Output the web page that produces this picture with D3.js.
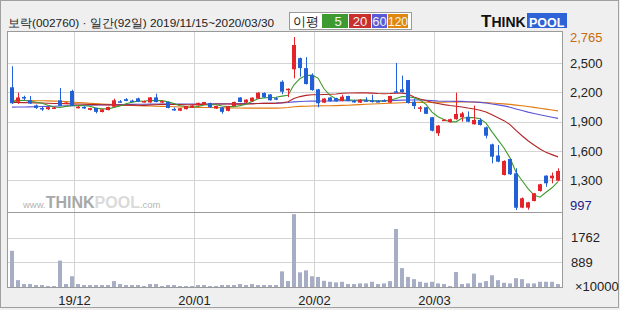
<!DOCTYPE html>
<html>
<head>
<meta charset="utf-8">
<script src="https://cdn.jsdelivr.net/npm/d3@7"></script>
<style>
  body { margin: 0; background: #fff; }
  svg { display: block; }
  text { font-family: "Liberation Sans", Arial, sans-serif; }
</style>
</head>
<body>
<div id="chart"></div>
<script>
// daily candles, 2019/11/15 ~ 2020/03/30 (92 trading days)
const opens = [2251,2104,2152,2118,2066,2040,2027,2040,2118,2085,2213,2042,2050,2020,2040,1998,2018,2052,2108,2130,
  2115,2138,2100,2096,2148,2098,2102,2030,2012,2027,2043,2067,2074,2090,2034,2045,2010,2060,2147,2094,
  2108,2135,2193,2178,2140,2308,2228,2435,2549,2447,2377,2230,2094,2147,2140,2111,2162,2112,2094,2118,
  2118,2110,2118,2094,2210,2230,2325,2104,2040,2047,1945,1781,1915,1896,1925,1945,1950,1873,1917,1842,
  1668,1554,1355,1518,1372,1021,1021,1089,1191,1348,1321,1297]
const highs = [2466,2196,2165,2162,2075,2050,2052,2050,2244,2100,2226,2060,2058,2042,2042,2028,2052,2135,2120,2140,
  2125,2145,2115,2150,2186,2115,2105,2045,2040,2060,2068,2094,2102,2095,2062,2048,2062,2104,2150,2128,
  2148,2200,2198,2182,2150,2322,2240,2765,2555,2559,2394,2235,2140,2150,2145,2175,2165,2125,2130,2150,
  2175,2120,2128,2165,2500,2370,2326,2135,2060,2050,1948,1865,1925,1930,2196,2000,2005,2064,1935,1850,
  1675,1661,1505,1520,1423,1125,1080,1172,1265,1352,1380,1423]
const lows = [2080,2080,2120,2080,2030,2010,2020,2035,2058,2080,2060,2035,2030,2015,1985,1995,2015,2050,2095,2108,
  2100,2100,2095,2094,2098,2092,2036,2010,2008,2025,2040,2062,2070,2040,2030,1981,2005,2058,2098,2090,
  2105,2132,2145,2115,2120,2180,2150,2343,2360,2280,2215,2047,2090,2105,2105,2108,2108,2094,2090,2105,
  2095,2100,2105,2090,2200,2195,2085,2030,2000,1978,1800,1753,1910,1890,1920,1900,1895,1870,1860,1730,
  1474,1485,1350,1355,997,1015,1000,1085,1185,1235,1270,1290]
const closes = [2088,2147,2137,2085,2040,2030,2048,2045,2062,2095,2065,2052,2036,2038,2000,2025,2050,2118,2103,2112,
  2110,2105,2110,2148,2100,2110,2040,2026,2037,2058,2065,2092,2100,2048,2060,2000,2058,2101,2101,2125,
  2145,2196,2150,2118,2135,2206,2236,2683,2447,2284,2223,2088,2136,2108,2108,2155,2111,2108,2125,2112,
  2100,2106,2112,2162,2204,2203,2090,2060,2046,1980,1807,1860,1920,1925,1978,1985,1900,1917,1866,1756,
  1542,1491,1498,1362,1020,1117,1076,1168,1260,1270,1348,1396]
// volume, x10000 shares
const volumes = [1291,244,105,105,70,70,35,35,942,105,384,105,70,70,70,70,70,210,105,70,
  70,70,35,105,105,35,70,70,35,35,35,70,70,35,35,70,70,70,105,70,
  105,70,70,70,70,558,210,2600,523,593,384,360,221,186,163,186,105,105,128,128,
  186,105,128,210,2070,674,360,279,186,151,186,128,105,35,535,105,128,477,151,210,
  419,244,151,128,314,279,128,128,186,186,186,105]

// moving averages
const ma5 = [2105,2112,2118,2108,2099,2088,2068,2050,2045,2056,2063,2064,2062,2057,2038,2030,2030,2046,2059,2082,
  2099,2110,2108,2117,2115,2115,2102,2085,2063,2054,2045,2056,2070,2073,2073,2060,2053,2053,2064,2077,
  2106,2134,2143,2147,2149,2161,2169,2276,2341,2371,2375,2345,2236,2168,2133,2119,2124,2118,2121,2122,
  2111,2110,2111,2118,2137,2157,2154,2144,2121,2076,1997,1951,1923,1898,1898,1934,1942,1941,1929,1885,
  1796,1714,1631,1530,1383,1298,1215,1149,1128,1178,1224,1288]
const ma20 = [2095,2095,2094,2093,2092,2090,2088,2086,2085,2084,2082,2080,2078,2076,2074,2072,2071,2070,2069,2069,
  2070,2068,2066,2070,2073,2077,2076,2075,2074,2072,2072,2074,2077,2078,2081,2080,2080,2079,2079,2080,
  2081,2086,2088,2087,2088,2093,2103,2136,2156,2168,2175,2175,2177,2180,2182,2190,2193,2193,2194,2194,
  2191,2187,2185,2187,2191,2191,2183,2152,2132,2117,2096,2085,2074,2065,2058,2050,2039,2030,2017,1999,
  1971,1940,1910,1870,1810,1756,1705,1661,1621,1586,1563,1540]
const ma60 = [2048,2049,2050,2051,2052,2054,2056,2058,2060,2062,2064,2066,2068,2069,2070,2071,2072,2073,2074,2075,
  2076,2077,2078,2079,2080,2080,2080,2080,2080,2080,2080,2080,2081,2081,2082,2082,2083,2083,2084,2084,
  2085,2086,2087,2088,2089,2092,2096,2102,2106,2108,2110,2110,2111,2111,2112,2113,2113,2113,2114,2114,
  2114,2114,2113,2115,2117,2120,2121,2121,2121,2119,2115,2111,2109,2108,2107,2107,2104,2101,2097,2091,
  2081,2071,2061,2048,2030,2013,1997,1983,1970,1957,1945,1933]
const ma120 = [2118,2117,2116,2115,2114,2113,2112,2110,2108,2105,2100,2096,2092,2088,2084,2080,2077,2074,2071,2068,
  2065,2063,2061,2060,2058,2056,2054,2052,2050,2048,2047,2046,2045,2044,2043,2042,2041,2040,2039,2038,
  2038,2038,2038,2038,2038,2040,2045,2052,2056,2058,2060,2061,2062,2063,2064,2066,2068,2071,2074,2077,
  2080,2083,2086,2088,2091,2093,2095,2096,2097,2098,2098,2099,2099,2100,2100,2100,2100,2099,2097,2094,
  2090,2086,2082,2076,2069,2062,2054,2046,2037,2028,2019,2010]

const priceTicks = [2500, 2200, 1900, 1600, 1300]
const priceMax = 2765, priceMin = 997
const volTicks = [889, 1762]
const monthIdx = [11, 31, 51, 71]
const monthLabels = ['19/12', '20/01', '20/02', '20/03']
const maNames = ['5', '20', '60', '120']
const maColors = ['#3d9a2c', '#b32424', '#5a55d8', '#e07b10']
const legendColors = ['#3d9a30', '#c8302c', '#5a5ad6', '#e0870e']

const W = 620, H = 310
const L = 8, R = 562, T = 32, PB = 212, B = 287

const svg = d3.select('#chart').append('svg')
  .attr('width', W)
  .attr('height', H)

svg.append('rect').attr('width', W).attr('height', H).attr('fill', '#efefef')
svg.append('rect')
  .attr('x', 0.5).attr('y', 0.5).attr('width', W - 2).attr('height', H - 3)
  .attr('fill', 'none').attr('stroke', '#a0a0a0')

svg.append('rect')
  .attr('x', L).attr('y', T).attr('width', R - L).attr('height', B - T)
  .attr('fill', '#fff')

const x = d3.scaleBand()
  .domain(d3.range(closes.length))
  .range([9, 561])
  .paddingInner(1 / 3)
  .paddingOuter(1 / 6)
const bw = x.bandwidth()
const cx = i => x(i) + bw / 2

const y = d3.scaleLinear().domain([priceMin, priceMax]).range([210, 37])
const yv = d3.scaleLinear().domain([0, 2640]).range([B, 213])

const grid = svg.append('g').attr('stroke', '#d4d4d4').attr('stroke-width', 1)
grid.selectAll('.hp').data(priceTicks).enter().append('line')
  .attr('x1', L).attr('x2', R)
  .attr('y1', d => Math.round(y(d)) + 0.5).attr('y2', d => Math.round(y(d)) + 0.5)
grid.selectAll('.hv').data(volTicks).enter().append('line')
  .attr('x1', L).attr('x2', R)
  .attr('y1', d => Math.round(yv(d)) + 0.5).attr('y2', d => Math.round(yv(d)) + 0.5)
grid.selectAll('.vg').data(monthIdx).enter().append('line')
  .attr('x1', d => x(d) - 1.5).attr('x2', d => x(d) - 1.5)
  .attr('y1', T).attr('y2', B)

// watermark
const wm = svg.append('text').attr('x', 23).attr('y', 208).attr('font-weight', 'bold')
wm.append('tspan').text('www.').attr('font-size', 9.5).attr('fill', '#b4b4b4').attr('font-weight', 'normal')
wm.append('tspan').text('THINK').attr('font-size', 16).attr('fill', '#a8a8a8')
wm.append('tspan').text('POOL').attr('font-size', 16).attr('fill', '#dadada')
wm.append('tspan').text('.com').attr('font-size', 9.5).attr('fill', '#b4b4b4').attr('font-weight', 'normal')

const clip = svg.append('g')

// volume bars
clip.selectAll('.vol').data(volumes).enter().append('rect')
  .attr('x', (d, i) => x(i))
  .attr('width', bw)
  .attr('y', d => yv(d))
  .attr('height', d => B - yv(d))
  .attr('fill', '#a6adc4')

// moving averages
const line = d3.line().x((d, i) => cx(i)).y(d => y(d))
;[ma120, ma60, ma20, ma5].forEach((s, k) => {
  clip.append('path')
    .attr('d', line(s))
    .attr('fill', 'none')
    .attr('stroke', maColors[3 - k])
    .attr('stroke-width', 1.1)
})

// candles
const up = i => closes[i] > opens[i]
const candles = clip.selectAll('.candle').data(closes).enter().append('g')
candles.append('line')
  .attr('x1', (d, i) => Math.floor(cx(i)) + 0.5).attr('x2', (d, i) => Math.floor(cx(i)) + 0.5)
  .attr('y1', (d, i) => y(highs[i])).attr('y2', (d, i) => y(lows[i]))
  .attr('stroke', (d, i) => up(i) ? '#e3242b' : '#2160d6')
candles.append('rect')
  .attr('x', (d, i) => x(i))
  .attr('width', bw)
  .attr('y', (d, i) => y(Math.max(opens[i], closes[i])))
  .attr('height', (d, i) => Math.max(1.5, Math.abs(y(opens[i]) - y(closes[i]))))
  .attr('fill', (d, i) => up(i) ? '#e3242b' : '#2160d6')

// frames
const frame = svg.append('g').attr('fill', 'none').attr('stroke', '#9a9a9a')
frame.append('rect').attr('x', L - 0.5).attr('y', T - 0.5).attr('width', R - L + 1).attr('height', B - T + 1)
frame.append('line').attr('x1', L).attr('x2', R).attr('y1', PB + 0.5).attr('y2', PB + 0.5)

// price axis
const pAxis = svg.append('g')
  .attr('transform', 'translate(570,0)')
  .call(d3.axisRight(y).tickValues([priceMax, ...priceTicks, priceMin]).tickFormat(d3.format(',')).tickSize(0).tickPadding(0))
pAxis.select('.domain').remove()
pAxis.selectAll('text')
  .attr('font-size', 13)
  .attr('font-family', '"Liberation Sans", Arial, sans-serif')
  .attr('fill', d => d === priceMax ? '#c86a10' : d === priceMin ? '#222288' : '#222')
  .attr('dy', d => d === priceMin ? '-0.02em' : '0.32em')

// volume axis
const vAxis = svg.append('g')
  .attr('transform', 'translate(571,0)')
  .call(d3.axisRight(yv).tickValues(volTicks).tickFormat(d => d).tickSize(0).tickPadding(0))
vAxis.select('.domain').remove()
vAxis.selectAll('text').attr('font-size', 13).attr('font-family', '"Liberation Sans", Arial, sans-serif').attr('fill', '#222')
svg.append('text').attr('x', 575).attr('y', 291).attr('font-size', 13).attr('fill', '#222').text('×10000')

// date labels
svg.selectAll('.mlab').data(monthIdx).enter().append('text')
  .attr('x', d => x(d) - 1.5)
  .attr('y', 305)
  .attr('text-anchor', 'middle')
  .attr('font-size', 13)
  .attr('fill', '#222')
  .text((d, k) => monthLabels[k])

// title
svg.append('text')
  .attr('x', 8).attr('y', 27)
  .attr('font-family', '"Noto Sans CJK KR", sans-serif')
  .attr('font-size', 11.8)
  .attr('fill', '#222')
  .text('보락(002760) · 일간(92일) 2019/11/15~2020/03/30')

// MA legend
const lg = svg.append('g')
lg.append('rect').attr('x', 289.5).attr('y', 12.5).attr('width', 122).attr('height', 17)
  .attr('fill', '#fff').attr('stroke', '#9a9a9a')
lg.append('text').attr('x', 293).attr('y', 26)
  .attr('font-family', '"Noto Sans CJK KR", sans-serif').attr('font-size', 12.5).attr('fill', '#222')
  .text('이평')
const boxX = [322, 349, 372, 388], boxW = [26, 22, 15, 20]
maNames.forEach((n, k) => {
  lg.append('rect').attr('x', boxX[k]).attr('y', 14).attr('width', boxW[k]).attr('height', 14)
    .attr('fill', legendColors[k])
  lg.append('text').attr('x', boxX[k] + boxW[k] / 2 + (k === 0 ? 3 : 0)).attr('y', 26)
    .attr('text-anchor', 'middle').attr('font-size', k === 3 ? 12 : 13).attr('fill', '#f2f2f2')
    .text(n)
})

// logo
const logo = svg.append('g')
const thk = logo.append('text').attr('x', 481).attr('y', 27).attr('font-weight', 'bold').attr('fill', '#111')
thk.append('tspan').attr('font-size', 17).text('T')
thk.append('tspan').attr('font-size', 14).text('HINK')
logo.append('rect').attr('x', 527).attr('y', 13).attr('width', 40).attr('height', 15).attr('fill', '#2d63d6')
logo.append('text').attr('x', 529).attr('y', 26.5).attr('font-weight', 'bold').attr('font-size', 12.5)
  .attr('fill', '#fff').text('POOL')
</script>
</body>
</html>
